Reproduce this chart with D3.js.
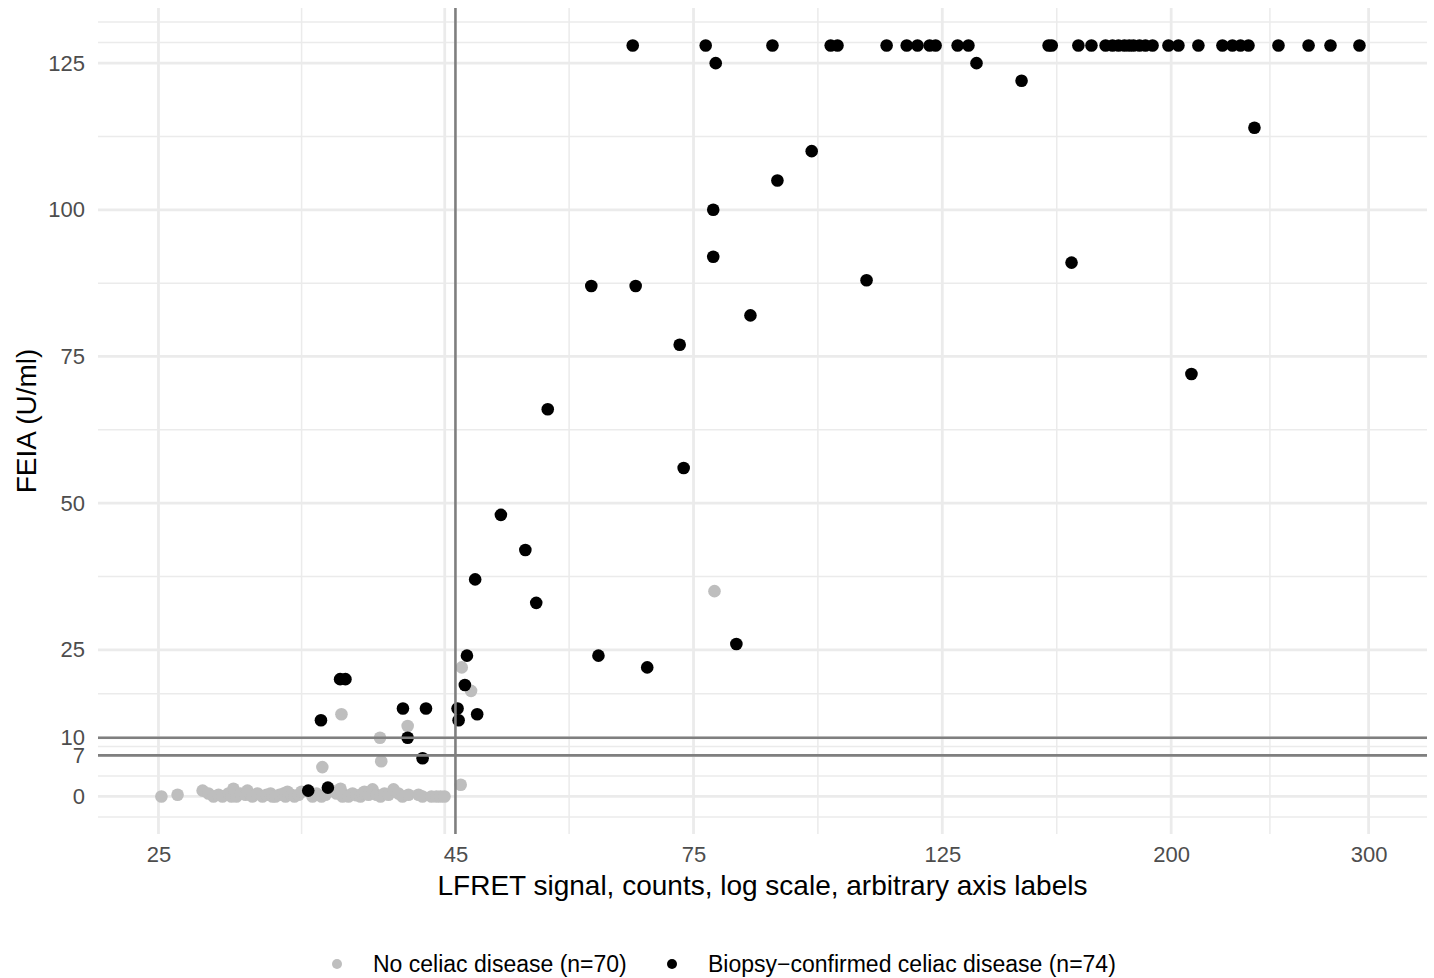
<!DOCTYPE html>
<html>
<head>
<meta charset="utf-8">
<script src="https://cdn.jsdelivr.net/npm/d3@7"></script>
<style>
  body { margin: 0; background: #fff; }
  svg { display: block; font-family: "Liberation Sans", Arial, sans-serif; }
</style>
</head>
<body>
<svg id="chart" width="1434" height="978"></svg>
<script>
// tick values (log x, linear y); x labels are "arbitrary", the 45 label sits on the cutoff
const x_ticks = [25, 45, 75, 125, 200, 300];
const x_label_at = [25, 46, 75, 125, 200, 300];
const x_tick_labels = ['25', '45', '75', '125', '200', '300'];
const y_ticks = [0, 7, 10, 25, 50, 75, 100, 125];
const y_tick_labels = ['0', '7', '10', '25', '50', '75', '100', '125'];

// cutoffs
const cutoff_lfret = 46;
const cutoff_feia = [7, 10];

const group_names = ['No celiac disease (n=70)', 'Biopsy\u2212confirmed celiac disease (n=74)'];
const group_colors = ['#bebebe', '#000000'];

// no celiac disease: LFRET signal / FEIA
const no_celiac_lfret = [
  25.15, 26.0, 27.37, 27.70, 27.99, 28.28, 28.51, 28.86, 29.04, 29.16,
  29.34, 29.58, 29.89, 30.01, 30.20, 30.32, 30.64, 30.95, 31.21, 31.47,
  31.59, 31.79, 32.05, 32.32, 32.45, 32.58, 32.85, 33.05, 33.33, 33.53,
  34.30, 34.58, 34.94, 35.23, 35.66, 36.03, 36.33, 36.48, 36.63, 36.93,
  37.24, 37.54, 37.85, 38.01, 38.16, 38.48, 38.80, 39.12, 39.44, 39.76,
  40.09, 40.51, 40.92, 41.26, 41.77, 42.64, 42.99, 43.79, 44.24, 44.61,
  44.98,
  46.6, 47.5, 36.4, 41.7, 39.4, 39.5, 35.0, 78.3, 46.5
];
const no_celiac_feia = [
  0, 0.3, 1, 0.5, 0, 0.3, 0, 0.5, 0, 1.3,
  0, 0.5, 0.3, 1, 0.3, 0, 0.5, 0, 0.3, 0.5,
  0, 0, 0.3, 0.5, 0, 0.8, 0.3, 0, 0.3, 0.8,
  0, 0.5, 0, 0.3, 1, 0.5, 1.3, 0, 0.3, 0,
  0.5, 0.2, 0, 0.5, 0.8, 0.3, 1.2, 0.3, 0, 0.5,
  0.3, 1.2, 0.5, 0, 0.3, 0.3, 0, 0, 0, 0,
  0,
  22, 18, 14, 12, 10, 6, 5, 35, 2
];

// biopsy-confirmed celiac disease
const celiac_lfret = [
  66.2, 76.9, 88.2, 99.4, 100.8, 111.5, 116.2, 118.8, 121.8, 123.3,
  129.0, 131.9, 155.5, 156.5, 165.3, 169.8, 174.8, 177.3, 179.5, 181.7,
  183.5, 185.1, 187.4, 189.7, 192.5, 198.9, 203.0, 211.5, 222.2, 226.8,
  230.6, 234.4, 249.3, 265.2, 277.4, 294.4,
  78.5, 134.1, 147.1, 237.3, 95.6, 89.1, 78.1, 78.1, 163.0, 107.0,
  60.8, 66.6, 84.3, 72.9, 208.5, 55.6, 73.5, 50.5, 53.1, 47.9,
  54.3, 81.9, 61.7, 47.1, 68.2, 46.9, 48.1, 46.2, 46.3, 41.3,
  43.3, 36.3, 36.7, 34.9, 41.7, 43.0, 35.4, 34.0
];
const celiac_feia = [
  128, 128, 128, 128, 128, 128, 128, 128, 128, 128,
  128, 128, 128, 128, 128, 128, 128, 128, 128, 128,
  128, 128, 128, 128, 128, 128, 128, 128, 128, 128,
  128, 128, 128, 128, 128, 128,
  125, 125, 122, 114, 110, 105, 100, 92, 91, 88,
  87, 87, 82, 77, 72, 66, 56, 48, 42, 37,
  33, 26, 24, 24, 22, 19, 14, 15, 13, 15,
  15, 20, 20, 13, 10, 6.5, 1.5, 1
];

const svg = d3.select('#chart');
const panel = { left: 98, right: 1427, top: 8, bottom: 834 };
const fontFamily = '"Liberation Sans", Arial, sans-serif';

const xScale = d3.scaleLog().domain([22.08, 338.2]).range([panel.left, panel.right]);
const yScale = d3.scaleLinear().domain([-6.4, 134.4]).range([panel.bottom, panel.top]);

// minor breaks like ggplot: midpoints between majors (log space for x)
const x_minor = [];
for (let i = 0; i < x_ticks.length - 1; i++) x_minor.push(Math.sqrt(x_ticks[i] * x_ticks[i + 1]));
const y_step = y_ticks[1] - y_ticks[0];
const y_ext = [y_ticks[0] - y_step, ...y_ticks, y_ticks[y_ticks.length - 1] + y_step];
const y_minor = [];
for (let i = 0; i < y_ext.length - 1; i++) y_minor.push((y_ext[i] + y_ext[i + 1]) / 2);
y_minor.push(y_ext[y_ext.length - 1]);

const gridColor = '#ebebeb';
const grid = svg.append('g');
grid.selectAll('.ymin').data(y_minor.filter(d => d >= yScale.domain()[0] && d <= yScale.domain()[1]))
  .enter().append('line')
  .attr('x1', panel.left).attr('x2', panel.right)
  .attr('y1', d => yScale(d)).attr('y2', d => yScale(d))
  .attr('stroke', gridColor).attr('stroke-width', 1.5);
grid.selectAll('.xmin').data(x_minor)
  .enter().append('line')
  .attr('x1', d => xScale(d)).attr('x2', d => xScale(d))
  .attr('y1', panel.top).attr('y2', panel.bottom)
  .attr('stroke', gridColor).attr('stroke-width', 1.5);
grid.selectAll('.ymaj').data(y_ticks)
  .enter().append('line')
  .attr('x1', panel.left).attr('x2', panel.right)
  .attr('y1', d => yScale(d)).attr('y2', d => yScale(d))
  .attr('stroke', gridColor).attr('stroke-width', 2.8);
grid.selectAll('.xmaj').data(x_ticks)
  .enter().append('line')
  .attr('x1', d => xScale(d)).attr('x2', d => xScale(d))
  .attr('y1', panel.top).attr('y2', panel.bottom)
  .attr('stroke', gridColor).attr('stroke-width', 2.8);

// axes (text only, no axis lines)
const tickFont = 22;
const xAxis = svg.append('g')
  .attr('transform', `translate(0, ${panel.bottom})`)
  .call(d3.axisBottom(xScale).tickValues(x_label_at).tickFormat((d, i) => x_tick_labels[i]).tickSize(0).tickPadding(12));
xAxis.select('.domain').remove();
xAxis.selectAll('.tick text')
  .attr('font-family', fontFamily)
  .attr('font-size', tickFont).attr('fill', '#4d4d4d');

const yAxis = svg.append('g')
  .attr('transform', `translate(${panel.left}, 0)`)
  .call(d3.axisLeft(yScale).tickValues(y_ticks).tickFormat((d, i) => y_tick_labels[i]).tickSize(0).tickPadding(13));
yAxis.select('.domain').remove();
yAxis.selectAll('.tick text')
  .attr('font-family', fontFamily)
  .attr('font-size', tickFont).attr('fill', '#4d4d4d');

// points: no celiac first, celiac on top
const pts = svg.append('g');
pts.selectAll('.nc').data(d3.zip(no_celiac_lfret, no_celiac_feia))
  .enter().append('circle')
  .attr('cx', d => xScale(d[0])).attr('cy', d => yScale(d[1]))
  .attr('r', 6.3).attr('fill', group_colors[0]);
pts.selectAll('.cd').data(d3.zip(celiac_lfret, celiac_feia))
  .enter().append('circle')
  .attr('cx', d => xScale(d[0])).attr('cy', d => yScale(d[1]))
  .attr('r', 6.3).attr('fill', group_colors[1]);

// cutoff lines
const cutColor = '#7f7f7f';
svg.append('line')
  .attr('x1', xScale(cutoff_lfret)).attr('x2', xScale(cutoff_lfret))
  .attr('y1', panel.top).attr('y2', panel.bottom)
  .attr('stroke', cutColor).attr('stroke-width', 2.6);
svg.selectAll('.hcut').data(cutoff_feia)
  .enter().append('line')
  .attr('x1', panel.left).attr('x2', panel.right)
  .attr('y1', d => yScale(d)).attr('y2', d => yScale(d))
  .attr('stroke', cutColor).attr('stroke-width', 2.6);

// axis titles
svg.append('text')
  .attr('x', (panel.left + panel.right) / 2).attr('y', 895)
  .attr('text-anchor', 'middle')
  .attr('font-size', 28).attr('fill', '#000')
  .text('LFRET signal, counts, log scale, arbitrary axis labels');
svg.append('text')
  .attr('transform', `translate(36, ${(panel.top + panel.bottom) / 2}) rotate(-90)`)
  .attr('text-anchor', 'middle')
  .attr('font-size', 28).attr('fill', '#000')
  .text('FEIA (U/ml)');

// legend
const legend_x = [337, 672];
const legend = svg.append('g');
group_names.forEach((name, i) => {
  legend.append('circle')
    .attr('cx', legend_x[i]).attr('cy', 964)
    .attr('r', 5).attr('fill', group_colors[i]);
  legend.append('text')
    .attr('x', legend_x[i] + 36).attr('y', 972)
    .attr('font-size', 23).attr('fill', '#000')
    .text(name);
});
</script>
</body>
</html>
